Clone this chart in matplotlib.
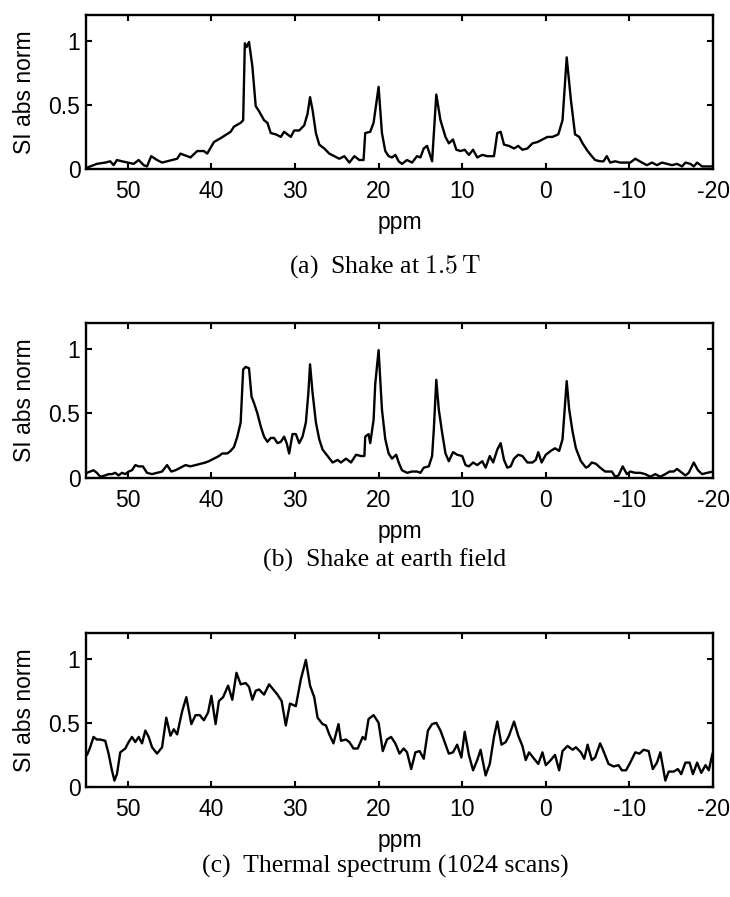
import matplotlib
matplotlib.use("Agg")
import matplotlib.pyplot as plt

plt.rcParams["font.family"] = ["Liberation Sans", "DejaVu Sans"]
plt.rcParams["mathtext.fontset"] = "cm"

# (a) Shake at 1.5 T
ppm_a = [55.0, 54.9, 54.5, 53.7, 52.7, 52.1, 51.7, 51.3, 50.7, 50.0, 49.3, 48.7, 48.1, 47.7,
         47.2, 46.5, 45.9, 45.3, 44.7, 44.1, 43.7, 42.5, 41.7, 40.9, 40.5, 39.7, 38.9, 37.7,
         37.3, 36.5, 36.2, 36.0, 35.8, 35.5, 35.1, 34.7, 34.3, 33.7, 33.3, 32.9, 32.3, 31.7,
         31.3, 30.9, 30.5, 30.1, 29.5, 28.9, 28.5, 28.2, 27.9, 27.5, 27.1, 26.5, 25.9, 25.3,
         24.7, 24.1, 23.5, 22.9, 22.3, 21.8, 21.6, 21.0, 20.6, 20.0, 19.6, 19.2, 18.8, 18.4,
         18.0, 17.6, 17.2, 16.6, 16.0, 15.4, 15.0, 14.6, 14.2, 13.9, 13.6, 13.1, 12.6, 12.0,
         11.6, 11.1, 10.7, 10.2, 9.7, 9.2, 8.7, 8.2, 7.6, 7.0, 6.2, 5.8, 5.4, 5.0, 4.4, 3.8,
         3.3, 2.8, 2.2, 1.6, 1.0, 0.4, -0.2, -0.8, -1.5, -2.0, -2.5, -3.0, -3.5, -4.0, -4.4,
         -5.0, -5.5, -5.9, -6.5, -6.9, -7.3, -7.7, -8.3, -8.9, -9.5, -10.1, -10.7, -11.5,
         -12.1, -12.7, -13.3, -13.9, -14.5, -15.1, -15.7, -16.3, -16.7, -17.3, -17.7, -18.1,
         -18.7, -19.3, -20.0]
si_a = [0.01, 0.01, 0.02, 0.04, 0.05, 0.06, 0.03, 0.07, 0.06, 0.05, 0.04, 0.07, 0.03, 0.02,
        0.10, 0.07, 0.05, 0.06, 0.07, 0.08, 0.12, 0.09, 0.14, 0.14, 0.12, 0.21, 0.24, 0.29,
        0.33, 0.36, 0.38, 0.98, 0.95, 0.99, 0.80, 0.49, 0.45, 0.38, 0.36, 0.28, 0.27, 0.25,
        0.29, 0.27, 0.25, 0.30, 0.30, 0.34, 0.43, 0.56, 0.46, 0.28, 0.19, 0.16, 0.12, 0.10,
        0.08, 0.10, 0.05, 0.10, 0.07, 0.07, 0.28, 0.29, 0.36, 0.64, 0.28, 0.14, 0.10, 0.09,
        0.11, 0.06, 0.04, 0.07, 0.05, 0.10, 0.09, 0.16, 0.18, 0.12, 0.06, 0.58, 0.38, 0.25,
        0.20, 0.23, 0.15, 0.14, 0.15, 0.11, 0.15, 0.09, 0.11, 0.10, 0.10, 0.28, 0.29, 0.19,
        0.18, 0.16, 0.18, 0.15, 0.16, 0.20, 0.21, 0.23, 0.25, 0.25, 0.27, 0.38, 0.87, 0.54,
        0.27, 0.25, 0.20, 0.14, 0.10, 0.07, 0.06, 0.06, 0.10, 0.05, 0.06, 0.05, 0.05, 0.05,
        0.08, 0.05, 0.03, 0.05, 0.03, 0.05, 0.04, 0.03, 0.04, 0.02, 0.05, 0.04, 0.02, 0.05,
        0.02, 0.02, 0.02]

# (b) Shake at earth field
ppm_b = [55.0, 54.9, 54.5, 54.1, 53.7, 53.3, 52.7, 52.3, 51.9, 51.5, 51.1, 50.7, 50.3, 49.9,
         49.5, 49.1, 48.7, 48.2, 47.7, 47.1, 46.5, 45.9, 45.3, 44.8, 44.3, 43.7, 43.1, 42.5,
         41.9, 41.3, 40.7, 40.3, 39.7, 39.1, 38.7, 38.1, 37.7, 37.3, 36.9, 36.5, 36.2, 35.9,
         35.5, 35.2, 34.9, 34.5, 34.1, 33.7, 33.3, 32.9, 32.5, 32.1, 31.7, 31.3, 31.0, 30.7,
         30.3, 29.9, 29.5, 29.1, 28.7, 28.4, 28.2, 27.9, 27.5, 27.1, 26.7, 26.1, 25.5, 24.9,
         24.5, 23.9, 23.3, 22.7, 22.1, 21.7, 21.6, 21.2, 21.0, 20.6, 20.4, 20.0, 19.6, 19.2,
         18.8, 18.4, 17.9, 17.6, 17.2, 16.6, 16.0, 15.4, 15.0, 14.6, 14.0, 13.6, 13.4, 13.1,
         12.8, 12.4, 12.0, 11.6, 11.1, 10.6, 10.0, 9.6, 9.2, 8.7, 8.2, 7.6, 7.2, 6.7, 6.3,
         5.8, 5.4, 5.0, 4.6, 4.2, 3.8, 3.3, 2.8, 2.2, 1.6, 1.2, 0.9, 0.5, 0.0, -0.6, -1.1,
         -1.6, -2.0, -2.5, -2.8, -3.2, -3.6, -4.2, -4.8, -5.1, -5.5, -6.0, -6.5, -7.1, -7.9,
         -8.3, -8.7, -9.2, -9.7, -10.1, -10.7, -11.3, -11.9, -12.5, -13.1, -13.7, -14.3,
         -14.8, -15.3, -15.7, -16.1, -16.7, -17.1, -17.7, -18.2, -18.7, -19.3, -20.0]
si_b = [0.03, 0.04, 0.05, 0.06, 0.04, 0.01, 0.02, 0.03, 0.03, 0.04, 0.02, 0.04, 0.03, 0.05,
        0.06, 0.10, 0.09, 0.09, 0.04, 0.03, 0.04, 0.05, 0.10, 0.05, 0.06, 0.08, 0.10, 0.09,
        0.10, 0.11, 0.12, 0.13, 0.15, 0.17, 0.19, 0.19, 0.21, 0.24, 0.32, 0.43, 0.84, 0.86,
        0.85, 0.63, 0.58, 0.50, 0.40, 0.32, 0.28, 0.31, 0.31, 0.27, 0.28, 0.32, 0.27, 0.19,
        0.34, 0.34, 0.27, 0.32, 0.43, 0.66, 0.88, 0.66, 0.43, 0.30, 0.22, 0.17, 0.12, 0.14,
        0.12, 0.15, 0.12, 0.18, 0.17, 0.17, 0.32, 0.34, 0.27, 0.45, 0.73, 0.99, 0.53, 0.30,
        0.19, 0.15, 0.18, 0.12, 0.06, 0.04, 0.05, 0.05, 0.04, 0.08, 0.09, 0.17, 0.37, 0.76,
        0.53, 0.35, 0.19, 0.13, 0.20, 0.18, 0.17, 0.10, 0.09, 0.12, 0.10, 0.13, 0.08, 0.17,
        0.12, 0.22, 0.27, 0.14, 0.08, 0.09, 0.15, 0.18, 0.17, 0.12, 0.12, 0.14, 0.20, 0.12,
        0.18, 0.21, 0.23, 0.21, 0.30, 0.75, 0.53, 0.36, 0.23, 0.13, 0.08, 0.09, 0.12, 0.11,
        0.08, 0.05, 0.05, 0.01, 0.02, 0.09, 0.03, 0.05, 0.04, 0.04, 0.03, 0.01, 0.03, 0.01,
        0.03, 0.05, 0.05, 0.07, 0.05, 0.02, 0.04, 0.12, 0.06, 0.03, 0.04, 0.05]

# (c) Thermal spectrum (1024 scans)
ppm_c = [55.0, 54.8, 54.5, 54.1, 53.7, 53.3, 52.7, 52.3, 51.9, 51.6, 51.3, 50.9, 50.3, 49.9,
         49.5, 49.1, 48.7, 48.3, 47.9, 47.5, 47.1, 46.5, 45.9, 45.4, 44.9, 44.5, 44.1, 43.5,
         43.0, 42.4, 41.9, 41.4, 40.9, 40.4, 40.0, 39.5, 39.1, 38.6, 38.0, 37.5, 37.0, 36.5,
         35.9, 35.5, 35.1, 34.7, 34.3, 33.7, 33.1, 32.6, 32.1, 31.6, 31.1, 30.6, 29.9, 29.3,
         28.7, 28.2, 27.7, 27.3, 26.7, 26.3, 25.9, 25.4, 24.8, 24.5, 23.9, 23.5, 23.0, 22.5,
         21.9, 21.6, 21.2, 20.6, 20.0, 19.5, 19.0, 18.5, 18.0, 17.5, 17.0, 16.6, 16.1, 15.6,
         15.1, 14.6, 14.1, 13.6, 13.1, 12.6, 12.1, 11.6, 11.1, 10.6, 10.1, 9.7, 9.2, 8.7, 8.2,
         7.8, 7.2, 6.7, 6.2, 5.8, 5.3, 4.8, 4.4, 3.8, 3.3, 2.8, 2.4, 2.0, 1.4, 0.9, 0.4, 0.0,
         -0.6, -1.1, -1.6, -2.0, -2.6, -3.2, -3.6, -4.2, -4.6, -5.0, -5.5, -5.9, -6.5, -6.9,
         -7.5, -8.1, -8.7, -9.1, -9.6, -10.1, -10.7, -11.2, -11.7, -12.3, -12.8, -13.3, -13.7,
         -14.3, -14.7, -15.3, -15.8, -16.2, -16.7, -17.2, -17.6, -18.1, -18.6, -19.1, -19.5,
         -19.9, -20.0]
si_c = [0.24, 0.26, 0.31, 0.39, 0.37, 0.37, 0.36, 0.26, 0.13, 0.05, 0.10, 0.27, 0.30, 0.35,
        0.39, 0.35, 0.39, 0.34, 0.44, 0.39, 0.31, 0.26, 0.31, 0.54, 0.40, 0.45, 0.41, 0.59,
        0.70, 0.49, 0.56, 0.56, 0.52, 0.58, 0.71, 0.49, 0.67, 0.70, 0.79, 0.68, 0.89, 0.80,
        0.81, 0.78, 0.68, 0.75, 0.76, 0.72, 0.80, 0.76, 0.72, 0.67, 0.48, 0.65, 0.63, 0.84,
        0.99, 0.79, 0.70, 0.54, 0.49, 0.48, 0.41, 0.34, 0.49, 0.36, 0.37, 0.35, 0.30, 0.30,
        0.39, 0.37, 0.53, 0.56, 0.50, 0.28, 0.37, 0.39, 0.34, 0.26, 0.30, 0.27, 0.14, 0.27,
        0.28, 0.22, 0.44, 0.49, 0.50, 0.44, 0.35, 0.26, 0.27, 0.33, 0.23, 0.43, 0.25, 0.13,
        0.21, 0.29, 0.09, 0.18, 0.39, 0.51, 0.33, 0.35, 0.40, 0.51, 0.40, 0.32, 0.21, 0.27,
        0.22, 0.18, 0.27, 0.17, 0.21, 0.25, 0.13, 0.28, 0.32, 0.29, 0.31, 0.27, 0.22, 0.33,
        0.21, 0.23, 0.34, 0.28, 0.18, 0.16, 0.17, 0.13, 0.13, 0.19, 0.27, 0.26, 0.29, 0.28,
        0.14, 0.19, 0.27, 0.05, 0.12, 0.12, 0.14, 0.10, 0.19, 0.19, 0.10, 0.19, 0.11, 0.17,
        0.13, 0.25, 0.27]

panels = [
    (ppm_a, si_a, r"(a)  Shake at $1.5\,\mathrm{T}$"),
    (ppm_b, si_b, "(b)  Shake at earth field"),
    (ppm_c, si_c, "(c)  Thermal spectrum (1024 scans)"),
]
xticks = [50, 40, 30, 20, 10, 0, -10, -20]
yticks = [0, 0.5, 1]

W, H = 730, 897
fig = plt.figure(figsize=(W / 100, H / 100), dpi=100)

ax_top = [15, 323, 633]       # px from top
ax_bot = [169, 478, 787]
cap_y = [267, 560, 866]
left, right = 86, 713

for i, (x, y, cap) in enumerate(panels):
    ax = fig.add_axes([left / W, 1 - ax_bot[i] / H, (right - left) / W,
                       (ax_bot[i] - ax_top[i]) / H])
    ax.plot(x, y, color="black", linewidth=1.7)
    ax.set_xlim(55, -20)
    ax.set_ylim(0, 1.2)
    ax.set_xticks(xticks)
    ax.set_xticklabels([str(t) for t in xticks])
    ax.set_yticks(yticks)
    ax.set_yticklabels(["0", "0.5", "1"])
    ax.tick_params(direction="in", length=4, width=1.5, top=True, right=True,
                   labelsize=16.5, pad=4)
    ax.tick_params(axis="x", pad=8)
    for s in ax.spines.values():
        s.set_linewidth(1.7)
    ax.set_xlabel("ppm", fontsize=16.5, labelpad=6)
    ax.set_ylabel("SI abs norm", fontsize=16.5, labelpad=9)
    fig.text(385 / W, 1 - cap_y[i] / H, cap, ha="center", va="center",
             fontsize=18.5, family=["Liberation Serif", "DejaVu Serif"])

fig.savefig("out.png", dpi=100)
